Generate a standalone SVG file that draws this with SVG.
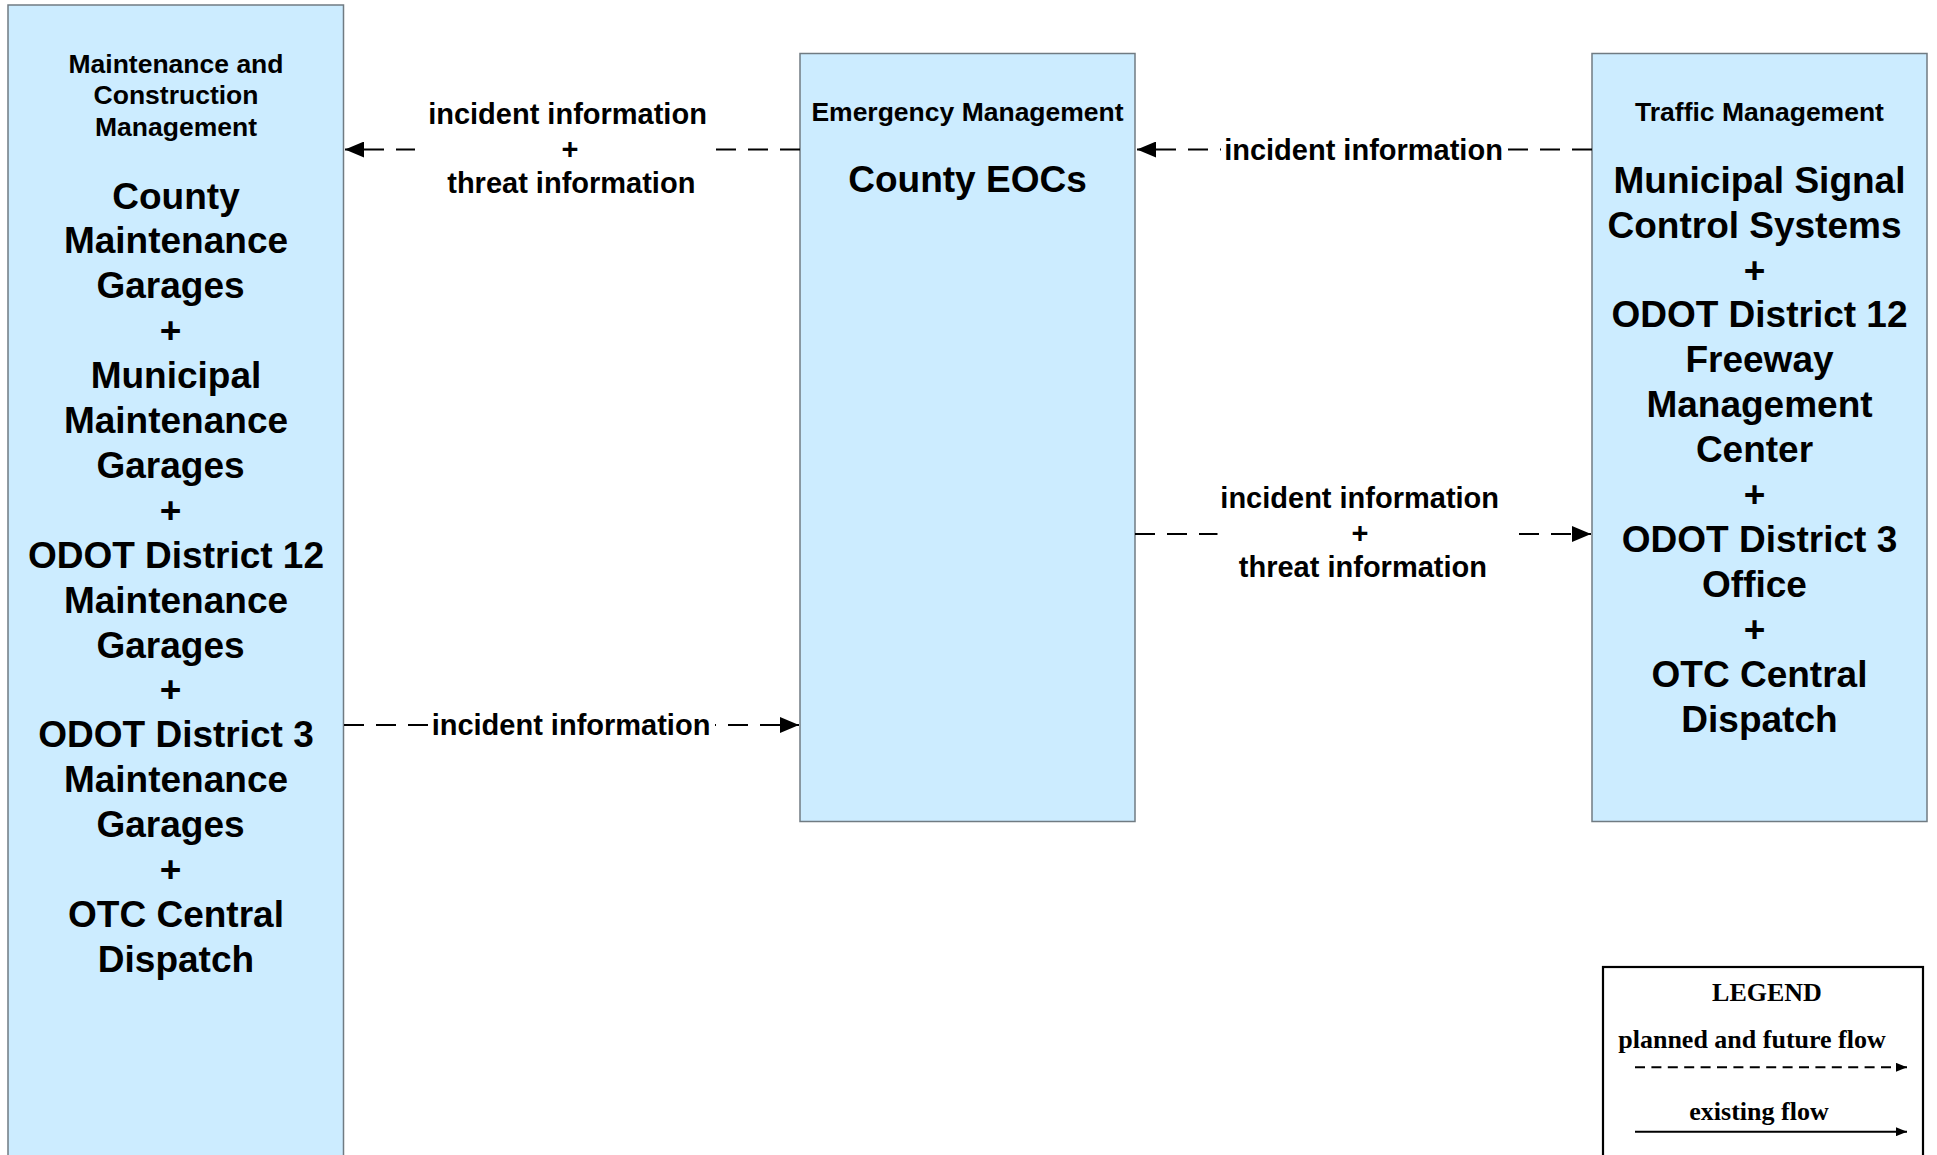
<svg xmlns="http://www.w3.org/2000/svg" width="1937" height="1155" viewBox="0 0 1937 1155">
  <defs>
    <style>
      .box { fill: #CCECFF; stroke: #707b82; stroke-width: 1.5; }
      .hdr { font-family: "Liberation Sans", Arial, sans-serif; font-weight: bold; font-size: 26.5px; fill: #000; text-anchor: middle; }
      .big { font-family: "Liberation Sans", Arial, sans-serif; font-weight: bold; font-size: 37px; fill: #000; text-anchor: middle; }
      .lbl { font-family: "Liberation Sans", Arial, sans-serif; font-weight: bold; font-size: 29px; fill: #000; text-anchor: middle; }
      .flow { fill: none; stroke: #000; stroke-width: 2; stroke-dasharray: 20 12; }
      .bg { fill: #fff; stroke: none; }
      .leg { font-family: "Liberation Serif", "Times New Roman", serif; font-weight: bold; font-size: 26px; fill: #000; text-anchor: middle; }
    </style>
    <marker id="arr" markerUnits="userSpaceOnUse" markerWidth="19" markerHeight="16" viewBox="0 0 19 16" refX="19" refY="8" orient="auto">
      <path d="M0,0 L19,8 L0,16 z" fill="#000"/>
    </marker>
    <marker id="arrS" markerUnits="userSpaceOnUse" markerWidth="11" markerHeight="9" viewBox="0 0 11 9" refX="11" refY="4.5" orient="auto">
      <path d="M0,0 L11,4.5 L0,9 z" fill="#000"/>
    </marker>
  </defs>

  <rect x="0" y="0" width="1937" height="1155" fill="#fff"/>

  <g id="node-maintenance">
    <rect class="box" x="8" y="5" width="335.5" height="1170"/>
    <text class="hdr" x="176" y="72.5">Maintenance and</text>
    <text class="hdr" x="176" y="104">Construction</text>
    <text class="hdr" x="176" y="135.5">Management</text>
    <text class="big" x="176" y="208.5">County</text>
    <text class="big" x="176" y="253.4">Maintenance</text>
    <text class="big" x="170.5" y="298.3">Garages</text>
    <text class="big" x="170.5" y="343.2">+</text>
    <text class="big" x="176" y="388.1">Municipal</text>
    <text class="big" x="176" y="433">Maintenance</text>
    <text class="big" x="170.5" y="477.9">Garages</text>
    <text class="big" x="170.5" y="522.8">+</text>
    <text class="big" x="176" y="567.7">ODOT District 12</text>
    <text class="big" x="176" y="612.6">Maintenance</text>
    <text class="big" x="170.5" y="657.5">Garages</text>
    <text class="big" x="170.5" y="702.4">+</text>
    <text class="big" x="176" y="747.3">ODOT District 3</text>
    <text class="big" x="176" y="792.2">Maintenance</text>
    <text class="big" x="170.5" y="837.1">Garages</text>
    <text class="big" x="170.5" y="882">+</text>
    <text class="big" x="176" y="926.9">OTC Central</text>
    <text class="big" x="176" y="971.8">Dispatch</text>
  </g>

  <g id="node-emergency">
    <rect class="box" x="800" y="53.5" width="335" height="768"/>
    <text class="hdr" x="967.5" y="120.7">Emergency Management</text>
    <text class="big" x="967.5" y="192">County EOCs</text>
  </g>

  <g id="node-traffic">
    <rect class="box" x="1592" y="53.5" width="335" height="768"/>
    <text class="hdr" x="1759.5" y="120.7">Traffic Management</text>
    <text class="big" x="1759.5" y="192.7">Municipal Signal</text>
    <text class="big" x="1754.5" y="237.6">Control Systems</text>
    <text class="big" x="1754.5" y="282.5">+</text>
    <text class="big" x="1759.5" y="327.4">ODOT District 12</text>
    <text class="big" x="1759.5" y="372.3">Freeway</text>
    <text class="big" x="1759.5" y="417.2">Management</text>
    <text class="big" x="1754.5" y="462.1">Center</text>
    <text class="big" x="1754.5" y="507">+</text>
    <text class="big" x="1759.5" y="551.9">ODOT District 3</text>
    <text class="big" x="1754.5" y="596.8">Office</text>
    <text class="big" x="1754.5" y="641.7">+</text>
    <text class="big" x="1759.5" y="686.6">OTC Central</text>
    <text class="big" x="1759.5" y="731.5">Dispatch</text>
  </g>

  <g id="connectors">
    <!-- Emergency -> Maintenance -->
    <line class="flow" x1="800" y1="149.5" x2="345" y2="149.5" marker-end="url(#arr)"/>
    <rect class="bg" x="415" y="136" width="300" height="28"/>
    <text class="lbl" x="567.5" y="124.3">incident information</text>
    <text class="lbl" x="570" y="159">+</text>
    <text class="lbl" x="571.3" y="193">threat information</text>

    <!-- Traffic -> Emergency -->
    <line class="flow" x1="1592" y1="149.5" x2="1137" y2="149.5" marker-end="url(#arr)"/>
    <rect class="bg" x="1221" y="136" width="285" height="28"/>
    <text class="lbl" x="1363.5" y="159.5">incident information</text>

    <!-- Emergency -> Traffic -->
    <line class="flow" x1="1135" y1="534" x2="1591" y2="534" marker-end="url(#arr)"/>
    <rect class="bg" x="1217.5" y="520" width="293" height="28"/>
    <text class="lbl" x="1359.7" y="508.3">incident information</text>
    <text class="lbl" x="1360" y="543">+</text>
    <text class="lbl" x="1362.9" y="577">threat information</text>

    <!-- Maintenance -> Emergency -->
    <line class="flow" x1="344" y1="725" x2="799" y2="725" marker-end="url(#arr)"/>
    <rect class="bg" x="430" y="711" width="285" height="28"/>
    <text class="lbl" x="571" y="735">incident information</text>
  </g>

  <g id="legend">
    <rect x="1603" y="967" width="320" height="220" fill="#fff" stroke="#000" stroke-width="2.2"/>
    <text class="leg" x="1767" y="1000.7">LEGEND</text>
    <text class="leg" x="1752" y="1048">planned and future flow</text>
    <line x1="1635" y1="1067.3" x2="1907" y2="1067.3" stroke="#000" stroke-width="2" stroke-dasharray="10 6.4" marker-end="url(#arrS)"/>
    <text class="leg" x="1759" y="1120">existing flow</text>
    <line x1="1635" y1="1131.7" x2="1907" y2="1131.7" stroke="#000" stroke-width="2" marker-end="url(#arrS)"/>
  </g>
</svg>
